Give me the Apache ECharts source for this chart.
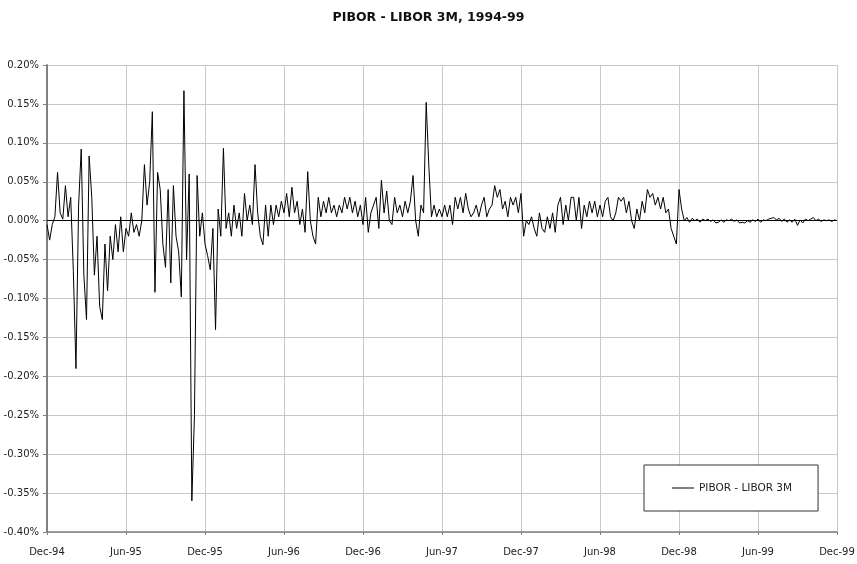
<!DOCTYPE html>
<html><head><meta charset="utf-8">
<script src="https://cdn.jsdelivr.net/npm/echarts@6/dist/echarts.min.js"></script>
<style>html,body{margin:0;padding:0;background:#fff}#c{width:857px;height:564px}</style>
</head><body><div id="c"></div>
<script>
const chartTitle = 'PIBOR - LIBOR 3M, 1994-99';
const seriesName = 'PIBOR - LIBOR 3M';
const tickLabels = ['Dec-94','Jun-95','Dec-95','Jun-96','Dec-96','Jun-97','Dec-97','Jun-98','Dec-98','Jun-99','Dec-99'];
const stepMonths = 0.2; // sampling interval of the series, months after Dec-94

// spread in percentage points, Dec-94 .. Dec-95
const spread1995 = [
 -0.005,-0.025,-0.005,0.005,0.062,0.01,0.002,0.045,0.005,0.03,
 -0.065,-0.19,0.02,0.092,-0.07,-0.127,0.083,0.03,-0.07,-0.02,
 -0.11,-0.127,-0.03,-0.09,-0.02,-0.05,-0.005,-0.04,0.005,-0.04,
 -0.01,
 -0.02,0.01,-0.015,-0.005,-0.02,0.0,0.072,0.02,0.05,0.14,
 -0.092,0.062,0.04,-0.03,-0.06,0.04,-0.08,0.045,-0.02,-0.04,
 -0.098,0.167,-0.05,0.06,-0.36,-0.25,0.058,-0.02,0.01,-0.03
];
const spread1996 = [
 -0.045,-0.063,-0.01,-0.14,0.015,-0.02,0.093,-0.01,0.01,-0.02,
 0.02,-0.01,0.01,-0.02,0.035,0.0,0.02,-0.005,0.072,0.01,
 -0.02,-0.031,0.02,-0.02,0.02,-0.005,0.02,0.005,0.025,0.01,
 0.035,0.005,0.043,0.01,0.025,-0.005,0.015,-0.015,0.063,0.0,
 -0.02,-0.03,0.03,0.005,0.025,0.01,0.03,0.01,0.02,0.005,
 0.02,0.01,0.03,0.015,0.03,0.01,0.025,0.005,0.02,-0.005
];
const spread1997 = [
 0.03,-0.015,0.01,0.02,0.03,-0.01,0.052,0.01,0.038,0.0,
 -0.005,0.03,0.01,0.02,0.005,0.025,0.01,0.025,0.058,0.0,
 -0.02,0.02,0.01,0.152,0.07,0.005,0.02,0.005,0.015,0.005,
 0.02,0.005,0.02,-0.005,0.03,0.015,0.03,0.01,0.035,0.015,
 0.005,0.01,0.02,0.005,0.02,0.03,0.005,0.015,0.02,0.045,
 0.03,0.04,0.015,0.025,0.005,0.03,0.02,0.03,0.01,0.035
];
const spread1998 = [
 -0.02,0.0,-0.005,0.005,-0.01,-0.02,0.01,-0.01,-0.015,0.005,
 -0.01,0.01,-0.015,0.02,0.03,-0.005,0.02,0.0,0.03,0.03,
 0.0,0.03,-0.01,0.02,0.005,0.025,0.01,0.025,0.005,0.02,
 0.005,0.025,0.03,0.005,0.0,0.01,0.03,0.025,0.03,0.01,
 0.025,0.0,-0.01,0.015,0.0,0.025,0.01,0.04,0.03,0.035,
 0.02,0.03,0.015,0.03,0.01,0.015,-0.01,-0.02,-0.03,0.04
];
const spread1999 = [
 0.015,0.0,0.004,-0.002,0.003,0.0,0.002,-0.002,0.002,0.0,
 0.002,-0.001,0.001,-0.003,-0.002,0.001,-0.002,0.001,0.0,0.002,
 -0.001,0.001,-0.003,-0.002,-0.003,0.0,-0.002,0.001,-0.001,0.002,
 -0.002,0.001,0.0,0.002,0.003,0.004,0.001,0.003,-0.001,0.002,
 -0.002,0.001,-0.002,0.002,-0.006,0.001,-0.003,0.002,0.0,0.002,
 0.004,0.0,0.002,-0.001,0.001,0.0,0.001,-0.001,0.001,0.0
];

const spread = [].concat(spread1995, spread1996, spread1997, spread1998, spread1999);
const points = spread.map((v, i) => [i * stepMonths, v]);

const FONT = 'DejaVu Sans';
const chart = echarts.init(document.getElementById('c'), null, {renderer: 'canvas'});
chart.setOption({
  animation: false,
  backgroundColor: '#ffffff',
  title: {
    text: chartTitle, left: 'center', top: 6,
    textStyle: {fontFamily: FONT, fontSize: 12.5, fontWeight: 'bold', color: '#111'}
  },
  legend: {
    data: [{name: seriesName, icon: 'path://M0,0 L22,0 L22,1 L0,1 Z'}],
    left: 644, top: 465, orient: 'horizontal',
    padding: [16, 26, 16, 28], itemWidth: 22, itemHeight: 1, itemGap: 5,
    borderColor: '#333', borderWidth: 1, backgroundColor: '#fff',
    itemStyle: {color: '#000'},
    textStyle: {fontFamily: FONT, fontSize: 10.5, color: '#222', lineHeight: 14}
  },
  grid: {left: 47, right: 20, top: 65, bottom: 32, containLabel: false, outerBoundsMode: 'none'},
  xAxis: {
    type: 'value', min: 0, max: 60, interval: 6,
    axisLine: {onZero: false, lineStyle: {color: '#808080', width: 1.5}},
    axisTick: {show: true, length: 3, lineStyle: {color: '#808080'}},
    splitLine: {show: true, lineStyle: {color: '#c8c8c8', width: 1}},
    axisLabel: {
      margin: 15, showMinLabel: true, showMaxLabel: true,
      fontFamily: FONT, fontSize: 10, color: '#222',
      formatter: v => tickLabels[Math.round(v / 6)]
    }
  },
  yAxis: {
    type: 'value', min: -0.4, max: 0.2, interval: 0.05,
    axisLine: {show: true, lineStyle: {color: '#808080', width: 2}},
    axisTick: {show: true, length: 4, lineStyle: {color: '#808080'}},
    splitLine: {show: true, lineStyle: {color: '#c8c8c8', width: 1}},
    axisLabel: {
      margin: 8, fontFamily: FONT, fontSize: 10, color: '#222',
      formatter: v => v.toFixed(2) + '%'
    }
  },
  series: [{
    name: seriesName, type: 'line', data: points,
    symbol: 'none', showSymbol: false,
    lineStyle: {color: '#000', width: 1},
    itemStyle: {color: '#000'},
    markLine: {
      silent: true, symbol: 'none', label: {show: false},
      lineStyle: {color: '#000', width: 1, type: 'solid'},
      data: [{yAxis: 0}]
    }
  }]
});
</script>
</body></html>
